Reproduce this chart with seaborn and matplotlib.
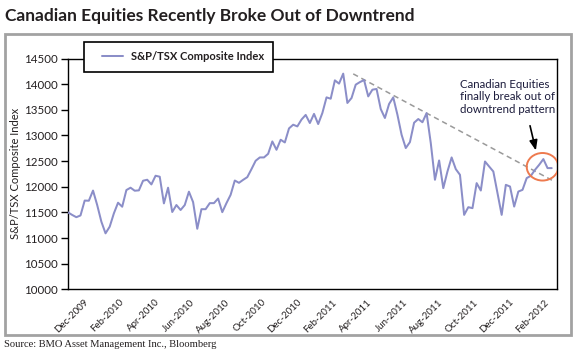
import numpy as np
import pandas as pd
import matplotlib
matplotlib.use("Agg")
import matplotlib.pyplot as plt
import seaborn as sns
from matplotlib.patches import Ellipse, Rectangle
from matplotlib.legend_handler import HandlerLine2D

# ---------------- data (weekly closes) ----------------
tsx_values = [
    11500, 11450, 11406, 11440, 11730, 11727, 11925, 11643, 11319, 11091,
    11221, 11480, 11688, 11610, 11935, 11981, 11922, 11929, 12117, 12136,
    12045, 12214, 12195, 11675, 11981, 11507, 11643, 11546, 11643, 11903,
    11700, 11180, 11562, 11562, 11680, 11680, 11770, 11504, 11680, 11842,
    12121, 12076, 12134, 12187, 12343, 12506, 12571, 12571, 12642, 12883,
    12720, 12916, 12863, 13137, 13209, 13176, 13310, 13400, 13242, 13420,
    13222, 13437, 13742, 13716, 14074, 14010, 14205, 13633, 13730, 13990,
    14040, 14080, 13761, 13892, 13906, 13515, 13340, 13613, 13742, 13404,
    13013, 12754, 12870, 13248, 13320, 13257, 13435, 12851, 12135, 12512,
    11972, 12297, 12571, 12343, 12232, 11451, 11601, 11582, 12070, 11926,
    12492, 12394, 12297, 11875, 11451, 12037, 12004, 11613, 11906, 11939,
    12168, 12213, 12330, 12428, 12539, 12363, 12363,
]
x_labels = ["Dec-2009", "Feb-2010", "Apr-2010", "Jun-2010", "Aug-2010",
            "Oct-2010", "Dec-2010", "Feb-2011", "Apr-2011", "Jun-2011",
            "Aug-2011", "Oct-2011", "Dec-2011", "Feb-2012"]
y_ticks = [10000, 10500, 11000, 11500, 12000, 12500, 13000, 13500, 14000, 14500]
trend_week = [68.4, 116.1]
trend_value = [14200, 12125]
series_name = "S&P/TSX Composite Index"
title = "Canadian Equities Recently Broke Out of Downtrend"
note = "Canadian Equities\nfinally break out of\ndowntrend pattern"
source = "Source: BMO Asset Management Inc., Bloomberg"

# ---------------- style ----------------
sns.set_theme(style="white")
plt.rcParams["font.family"] = ["Lato", "DejaVu Sans"]

LINE = "#8b8ec8"
TXT = "#231f20"
W, H = 578, 358
fig = plt.figure(figsize=(W / 100, H / 100), dpi=100)
fig.patch.set_facecolor("white")

# outer grey frame
fig.patches.append(Rectangle((5 / W, 1 - 335 / H), 566 / W, 301 / H,
                             transform=fig.transFigure, fill=False,
                             edgecolor="#a2a2a2", linewidth=2.0, zorder=0))

ax = fig.add_axes([68 / W, 1 - 289.3 / H, (557 - 68) / W, (289.3 - 58.5) / H])

df = pd.DataFrame({"week": np.arange(len(tsx_values)), "value": tsx_values})
sns.lineplot(data=df, x="week", y="value", color=LINE, linewidth=1.45,
             label=series_name, ax=ax, zorder=3)

# trend line
ax.plot(trend_week, trend_value, color="#9a9a9a", linewidth=1.1,
        linestyle=(0, (3.5, 2.5)), zorder=2)

ax.set_xlim(0, 117.27)
ax.set_ylim(10000, 14500)
ax.set_xlabel("")
ax.set_ylabel("S&P/TSX Composite Index", fontsize=8, color=TXT)
ax.yaxis.set_label_coords((21 - 68) / (557 - 68), 0.5)

ax.set_yticks(y_ticks, [str(v) for v in y_ticks])
xt = 3.85 + 8.49 * np.arange(len(x_labels))
ax.set_xticks(xt, x_labels, rotation=45, ha="right", rotation_mode="anchor")
ax.tick_params(axis="y", left=True, length=5, width=1, color="black",
               labelsize=8.3, labelcolor=TXT, pad=2.5)
ax.tick_params(axis="x", bottom=False, length=0, labelsize=7,
               labelcolor=TXT, pad=6)
for s in ax.spines.values():
    s.set_visible(True)
    s.set_color("black")
    s.set_linewidth(1.0)

# legend
fs_leg = 8
fs_px = fs_leg * 100 / 72
leg = ax.legend(loc="upper left", bbox_to_anchor=(84.3 / W, 1 - 41.7 / H),
                bbox_transform=fig.transFigure, borderaxespad=0,
                frameon=True, fancybox=False,
                edgecolor="black", framealpha=1, facecolor="white",
                borderpad=0.85, handlelength=29 / fs_px,
                handletextpad=8 / fs_px,
                handler_map={plt.Line2D: HandlerLine2D(xpad=8 / fs_px)},
                prop={"size": fs_leg, "weight": "bold"})
leg.get_frame().set_linewidth(1.2)
for t in leg.get_texts():
    t.set_color(TXT)
leg.set_zorder(5)

# breakout marker, arrow and note
ax.add_patch(Ellipse((113.8, 12389), 7.58, 537, fill=False,
                     edgecolor="#ee7a4e", linewidth=1.4, zorder=4))
ax.annotate("", xy=(112.2, 12707), xytext=(110.8, 13189),
            arrowprops=dict(arrowstyle="-|>,head_length=0.5,head_width=0.2",
                            color="black", lw=1.2, shrinkA=0, shrinkB=0),
            zorder=4)
ax.text(94.0, 14100, note, fontsize=8.3, color="#1c1c3c",
        va="top", ha="left", linespacing=1.15, zorder=4)

fig.text(5 / W, 1 - 21 / H, title, fontsize=12.5, fontweight="bold",
         color=TXT, va="baseline", ha="left")
fig.text(4 / W, 1 - 344.5 / H, source, fontsize=7.6, color=TXT,
         family=["Liberation Serif", "DejaVu Serif"], va="center", ha="left")

fig.savefig("out.png", dpi=100, facecolor="white")
